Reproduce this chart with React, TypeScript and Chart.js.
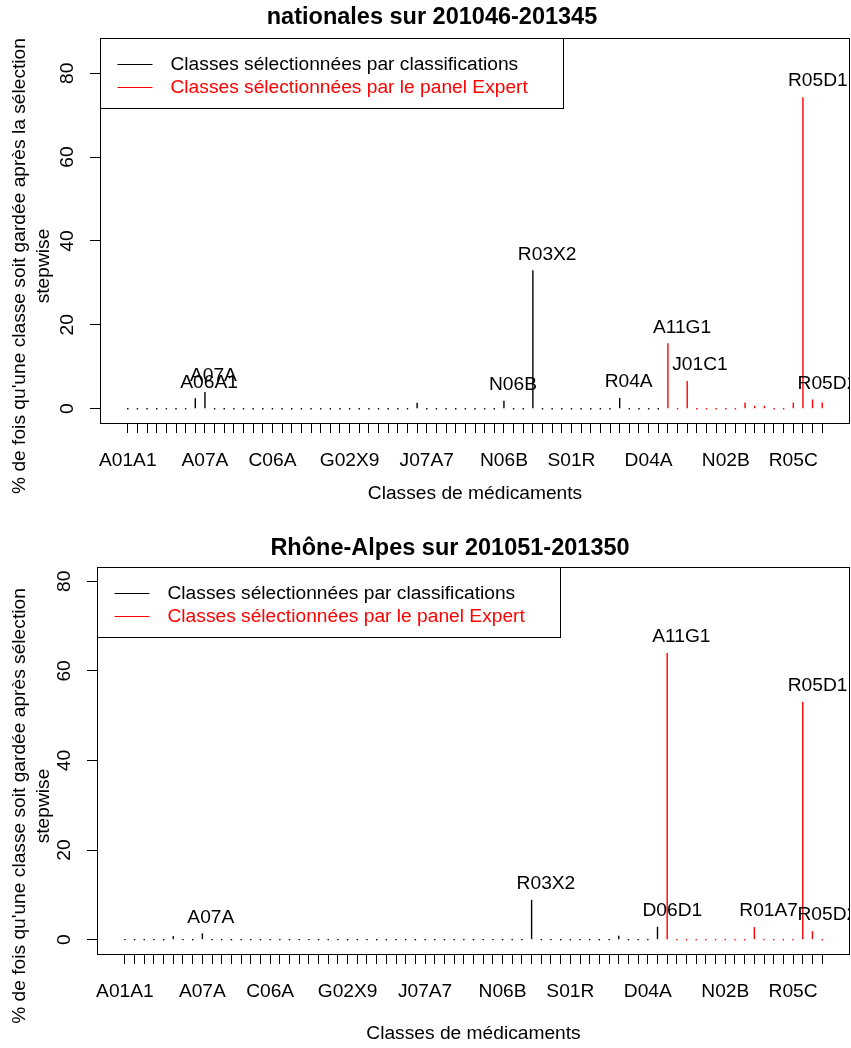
import React, { useEffect, useRef } from "react";
import { Chart, registerables } from "chart.js";

Chart.register(...registerables);

const FONT = '"Liberation Sans", Arial, sans-serif';

// Category names (73 classes; names that cannot be read are left empty)
const categories: string[] = [
  "A01A1", "", "", "", "", "", "", "A06A1", "A07A", "",
  "", "", "", "", "", "C06A", "", "", "", "",
  "", "", "", "G02X9", "", "", "", "", "", "",
  "", "J07A7", "", "", "", "", "", "", "", "N06B",
  "", "", "R03X2", "", "", "", "S01R", "", "", "",
  "", "R04A", "", "", "D04A", "D06D1", "A11G1", "", "J01C1", "",
  "", "", "N02B", "", "", "R01A7", "", "", "", "R05C",
  "R05D1", "R05D2", "",
];

// Tick labels that R managed to print on the x axis
const axisTickLabels = ["A01A1", "A07A", "C06A", "G02X9", "J07A7", "N06B", "S01R", "D04A", "N02B", "R05C"];
const yTickValues = [0, 20, 40, 60, 80];

// Panel 1 : nationales sur 201046-201345
const nationalesClassification = [
  0, 0, 0, 0, 0, 0, 0, 2.5, 4.0, 0,
  0, 0, 0, 0, 0, 0, 0, 0, 0, 0,
  0, 0, 0, 0, 0, 0, 0, 0, 0, 0,
  1.4, 0, 0, 0, 0, 0, 0, 0, 0, 1.9,
  0, 0, 33.0, 0, 0, 0, 0, 0, 0, 0,
  0, 2.6, 0, 0, 0, 0,
];
const nationalesExpert = [15.6, 0, 6.6, 0, 0, 0, 0, 0, 1.5, 0.7, 0.7, 0, 0, 1.5, 74.3, 2.2, 1.5];
const nationalesLabelled = ["A06A1", "A07A", "N06B", "R03X2", "R04A", "A11G1", "J01C1", "R05D1", "R05D2"];

// Panel 2 : Rhône-Alpes sur 201051-201350
const rhoneClassification = [
  0, 0, 0, 0, 0, 0.8, 0, 0, 1.4, 0,
  0, 0, 0, 0, 0, 0, 0, 0, 0, 0,
  0, 0, 0, 0, 0, 0, 0, 0, 0, 0,
  0, 0, 0, 0, 0, 0, 0, 0, 0, 0,
  0, 0, 8.9, 0, 0, 0, 0, 0, 0, 0,
  0, 0.9, 0, 0, 0, 2.9,
];
const rhoneExpert = [64.0, 0, 0, 0, 0, 0, 0, 0, 0, 2.8, 0, 0, 0, 0, 53.1, 1.9, 0];
const rhoneLabelled = ["A07A", "R03X2", "D06D1", "A11G1", "R01A7", "R05D1", "R05D2"];

const legendLabels = ["Classes sélectionnées par classifications", "Classes sélectionnées par le panel Expert"];
const xTitle = "Classes de médicaments";

type PanelProps = {
  top: number;
  title: string;
  yTitle: string[];
  classif: number[];
  expert: number[];
  labelled: string[];
  yLimit: number;
  plotLeft: number;
  plotTop: number;
  plotBottom: number;
  titleX: number;
  titleY: number;
  xTitleY: number;
  yTitleY: number;
};

const W = 851;
const H = 524;
const FS = 19.2;

function Panel(p: PanelProps) {
  const ref = useRef<HTMLCanvasElement>(null);
  useEffect(() => {
    const n = categories.length;
    const ext = 0.04 * (n - 1);
    const overlay = {
      id: "overlay",
      afterDatasetsDraw(chart: any) {
        const { ctx, chartArea: a, scales } = chart;
        const xs = scales.x;
        const ys = scales.y;
        ctx.save();
        // data labels (clipped to plot region)
        ctx.save();
        ctx.beginPath();
        ctx.rect(a.left, a.top, a.right - a.left, a.bottom - a.top);
        ctx.clip();
        ctx.font = `${FS}px ${FONT}`;
        ctx.fillStyle = "#000";
        ctx.textAlign = "left";
        ctx.textBaseline = "middle";
        chart.data.datasets.forEach((ds: any) => {
          ds.data.forEach((pt: any) => {
            const name = categories[pt.x - 1];
            if (name && p.labelled.includes(name)) {
              ctx.fillText(name, xs.getPixelForValue(pt.x) - 15, ys.getPixelForValue(pt.y) - 16);
            }
          });
        });
        ctx.restore();
        // box
        ctx.strokeStyle = "#000";
        ctx.lineWidth = 1;
        const l = Math.round(a.left) + 0.5;
        const t = Math.round(a.top) + 0.5;
        const r = Math.round(a.right) - 0.5;
        const b = Math.round(a.bottom) + 0.5;
        ctx.strokeRect(l, t, r - l, b - t);
        // y tick labels (rotated, R style)
        ctx.font = `${FS}px ${FONT}`;
        ctx.fillStyle = "#000";
        ctx.textAlign = "center";
        ctx.textBaseline = "middle";
        yTickValues.forEach((v) => {
          ctx.save();
          ctx.translate(a.left - 32, ys.getPixelForValue(v));
          ctx.rotate(-Math.PI / 2);
          ctx.fillText(String(v), 0, 0);
          ctx.restore();
        });
        // y title
        p.yTitle.forEach((line, i) => {
          ctx.save();
          ctx.translate(20 + i * 24, p.yTitleY);
          ctx.rotate(-Math.PI / 2);
          ctx.fillText(line, 0, 0);
          ctx.restore();
        });
        // x title
        ctx.fillText(xTitle, (a.left + a.right) / 2, p.xTitleY);
        // main title
        ctx.font = `bold 23.5px ${FONT}`;
        ctx.fillText(p.title, p.titleX, p.titleY);
        // legend
        const lx = Math.round(a.left) + 0.5;
        const ly = Math.round(a.top) + 0.5;
        ctx.fillStyle = "#fff";
        ctx.fillRect(lx, ly, 463, 70);
        ctx.strokeStyle = "#000";
        ctx.strokeRect(lx, ly, 463, 70);
        const colors = ["#000000", "#ff0000"];
        ctx.font = `${FS}px ${FONT}`;
        ctx.textAlign = "left";
        legendLabels.forEach((lab, i) => {
          const yy = Math.round(a.top) + 26 + i * 23 + 0.5;
          ctx.strokeStyle = colors[i];
          ctx.beginPath();
          ctx.moveTo(lx + 17, yy);
          ctx.lineTo(lx + 52, yy);
          ctx.stroke();
          ctx.fillStyle = colors[i];
          ctx.fillText(lab, lx + 70, yy);
        });
        ctx.restore();
      },
    };

    const barStyle = {
      barThickness: 1.4,
      minBarLength: 1.4,
      grouped: false,
      inflateAmount: 0,
    };

    const chart = new Chart(ref.current as HTMLCanvasElement, {
      type: "bar",
      data: {
        datasets: [
          {
            label: legendLabels[0],
            data: p.classif.map((v, i) => ({ x: i + 1, y: v })),
            backgroundColor: "#000000",
            ...barStyle,
          } as any,
          {
            label: legendLabels[1],
            data: p.expert.map((v, i) => ({ x: p.classif.length + i + 1, y: v })),
            backgroundColor: "#ff0000",
            ...barStyle,
          } as any,
        ],
      },
      options: {
        animation: false,
        responsive: false,
        maintainAspectRatio: false,
        devicePixelRatio: 1,
        layout: { padding: { top: p.plotTop, left: 0, right: 1, bottom: 0 } },
        plugins: { legend: { display: false }, title: { display: false }, tooltip: { enabled: false } },
        scales: {
          x: {
            type: "linear",
            offset: false,
            min: 1 - ext,
            max: n + ext,
            afterBuildTicks: (s: any) => {
              s.ticks = categories.map((_, i) => ({ value: i + 1 }));
            },
            afterFit: (s: any) => {
              s.height = H - p.plotBottom;
            },
            ticks: {
              autoSkip: false,
              maxRotation: 0,
              minRotation: 0,
              padding: 16,
              color: "#000",
              font: { family: FONT, size: FS },
              callback: (v: any) => {
                const name = categories[Math.round(Number(v)) - 1];
                return axisTickLabels.includes(name) ? name : "";
              },
            },
            grid: {
              display: true,
              offset: false,
              drawOnChartArea: false,
              drawTicks: true,
              tickLength: 10,
              color: "#000",
              lineWidth: 1,
            },
            border: { display: false },
          },
          y: {
            type: "linear",
            min: -0.04 * p.yLimit,
            max: 1.04 * p.yLimit,
            afterBuildTicks: (s: any) => {
              s.ticks = yTickValues.map((v) => ({ value: v }));
            },
            afterFit: (s: any) => {
              s.width = p.plotLeft;
            },
            ticks: { display: false },
            grid: { display: true, drawOnChartArea: false, drawTicks: true, tickLength: 10, color: "#000", lineWidth: 1 },
            border: { display: false },
          },
        },
      } as any,
      plugins: [overlay],
    });
    return () => chart.destroy();
  }, []);
  return (
    <canvas
      ref={ref}
      width={W}
      height={H}
      style={{ position: "absolute", left: 0, top: p.top, width: W, height: H, display: "block" }}
    />
  );
}

export default function App() {
  return (
    <div style={{ position: "absolute", left: 0, top: 0, width: W, height: 1048, overflow: "hidden", background: "#fff" }}>
      <Panel
        top={0}
        title="nationales sur 201046-201345"
        yTitle={["% de fois qu'une classe soit gardée après la sélection", "stepwise"]}
        classif={nationalesClassification}
        expert={nationalesExpert}
        labelled={nationalesLabelled}
        yLimit={85}
        plotLeft={100}
        plotTop={38}
        plotBottom={423}
        titleX={432}
        titleY={18}
        xTitleY={494}
        yTitleY={266}
      />
      <Panel
        top={524}
        title="Rhône-Alpes sur 201051-201350"
        yTitle={["% de fois qu'une classe soit gardée après sélection", "stepwise"]}
        classif={rhoneClassification}
        expert={rhoneExpert}
        labelled={rhoneLabelled}
        yLimit={80}
        plotLeft={97}
        plotTop={43}
        plotBottom={430}
        titleX={450}
        titleY={25}
        xTitleY={510}
        yTitleY={282}
      />
    </div>
  );
}
